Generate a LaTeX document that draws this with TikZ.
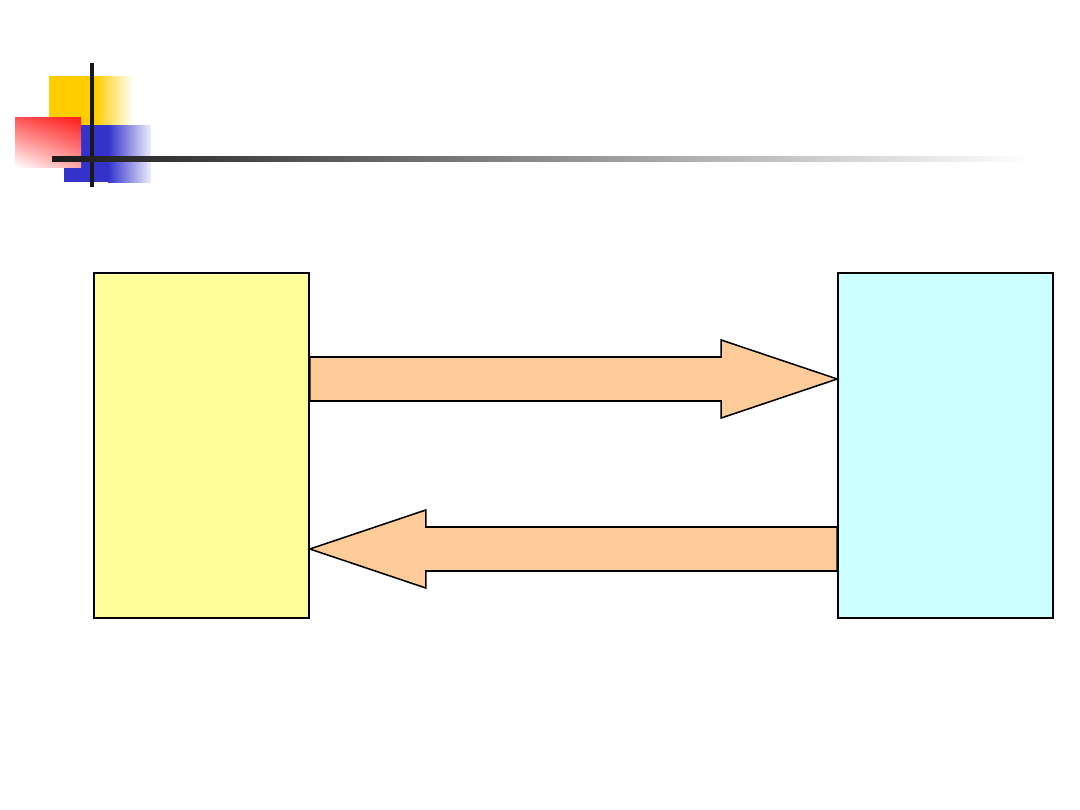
\documentclass[tikz,border=0pt]{standalone}
\usepackage{tikz}
\usetikzlibrary{positioning, calc, shadings}
\definecolor{boxyellow}{HTML}{FFFF99}
\definecolor{boxcyan}{HTML}{CCFFFF}
\definecolor{arrowfill}{HTML}{FFCC99}
\definecolor{decoyellow}{HTML}{FFCC00}
\definecolor{decoblue}{HTML}{3333CC}
\definecolor{decored}{HTML}{FF1A1A}
\tikzset{
    box/.style={ % the two tall boxes
        draw=black,
        line width=1.1pt,
        minimum width=5.375cm,
        minimum height=8.625cm,
        inner sep=0pt
    },
    blockarrow/.style={ % the two fat arrows
        draw=black,
        line width=1.1pt,
        fill=arrowfill,
        line join=miter
    },
    decoline/.style={line width=0.1cm}
}
\begin{document}
\begin{tikzpicture}[x=0.025cm, y=-0.025cm]
    \useasboundingbox (0,0) rectangle (1080,810);
    % title decoration
    \fill[decoyellow] (49,76) rectangle (95,125);
    \shade[left color=decoyellow, right color=white] (95,76) rectangle (133,125);
    \fill[decoblue] (64,125) rectangle (108,182);
    \shade[left color=decoblue, right color=decoblue!8!white] (108,125) rectangle (151,182);
    \shade[upper left=decored!75!white, upper right=decored,
           lower left=white, lower right=decored!40!white] (15,117) rectangle (81,167);
    \fill[black!90] (90,63) rectangle (94,187);
    \shade[left color=black!90, right color=white] (52,156) rectangle (1030,161);
    % boxes
    \node[box, fill=boxyellow] (yb) at (201.5,445.5) {};
    \node[box, fill=boxcyan]   (cb) at (945.5,445.5) {};
    \coordinate (ra1) at ($(yb.east)+(0,-66.5)$);
    \coordinate (ra2) at ($(cb.west)+(0,-66.5)$);
    \coordinate (la1) at ($(cb.west)+(0,103.5)$);
    \coordinate (la2) at ($(yb.east)+(0,103.5)$);
    % arrows
    \draw[blockarrow] ($(ra1)+(0,-22)$) -- ($(ra2)+(-116,-22)$) -- ($(ra2)+(-116,-39)$)
        -- (ra2) -- ($(ra2)+(-116,39)$) -- ($(ra2)+(-116,22)$) -- ($(ra1)+(0,22)$) -- cycle;
    \draw[blockarrow] ($(la1)+(0,-22)$) -- ($(la2)+(116,-22)$) -- ($(la2)+(116,-39)$)
        -- (la2) -- ($(la2)+(116,39)$) -- ($(la2)+(116,22)$) -- ($(la1)+(0,22)$) -- cycle;
\end{tikzpicture}
\end{document}
